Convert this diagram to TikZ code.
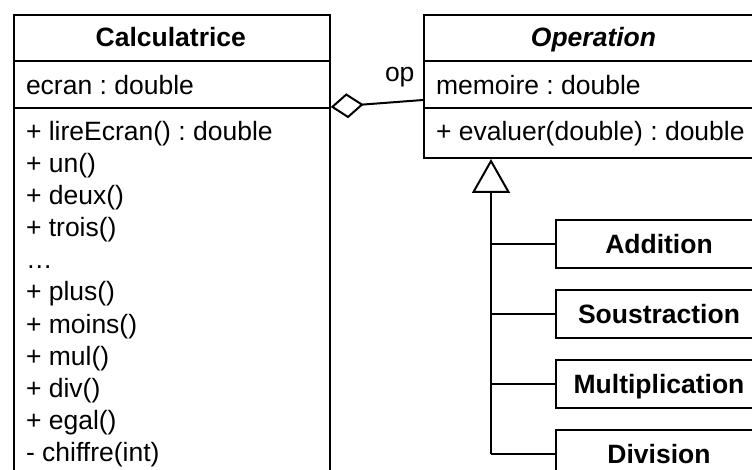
\documentclass[tikz,border=0pt]{standalone}
\usepackage{fontspec}
\setmainfont{Liberation Sans}
\usetikzlibrary{arrows.meta}
\frenchspacing
\begin{document}
\begin{tikzpicture}[x=1pt,y=-1pt,line width=2pt,
  umlbox/.style={draw,line width=2pt,inner sep=0pt,anchor=north west},
  subbox/.style={draw,line width=2pt,inner sep=0pt,anchor=west,minimum width=206pt,minimum height=48pt,
    font=\fontsize{26.5}{32}\selectfont\bfseries,text height=19pt,text depth=0pt},
  title/.style={inner sep=0pt,anchor=base,font=\fontsize{26.5}{32}\selectfont\bfseries},
  txt/.style={inner sep=0pt,anchor=base west,font=\fontsize{26.5}{32}\selectfont},
  agg/.style={line width=2pt,-{Diamond[open,length=33pt,width=25pt,line width=2pt]}},
  gen/.style={line width=2pt,-{Triangle[open,length=34pt,width=38pt,line width=2pt]}},
  branch/.style={line width=2pt}]
\useasboundingbox (0,0) rectangle (752,470);
\clip (0,0) rectangle (752,470);
% Calculatrice
\node[umlbox,minimum width=315.7pt,minimum height=480pt] (calc) at (13,14) {};
\draw ([yshift=-47pt]calc.north west) -- ([yshift=-47pt]calc.north east);
\draw ([yshift=-94pt]calc.north west) -- ([yshift=-94pt]calc.north east);
\node[title] (calcT) at (170.8,47) {Calculatrice};
\node[txt] (calcA) at (25,95) {ecran : double};
\foreach \t [count=\i from 0] in {+ lireEcran() : double,+ un(),+ deux(),+ trois(),…,+ plus(),+ moins(),+ mul(),+ div(),+ egal(),- chiffre(int)}
  \node[txt] (calcM\i) at (25,141+32*\i) {\t};
% Operation
\node[umlbox,minimum width=341pt,minimum height=143pt] (oper) at (423,14) {};
\draw ([yshift=-47pt]oper.north west) -- ([yshift=-47pt]oper.north east);
\draw ([yshift=-94pt]oper.north west) -- ([yshift=-94pt]oper.north east);
\node[title,font=\fontsize{26.5}{32}\selectfont\bfseries\itshape] (operT) at (593.5,47) {Operation};
\node[txt] (operA) at (435,95) {memoire : double};
\node[txt] (operM) at (435,141) {+ evaluer(double) : double};
% aggregation
\draw[agg] ([yshift=-86pt]oper.north west) -- ([yshift=-93pt]calc.north east);
\node[txt,anchor=base west] (oplabel) at (384,82) {op};
% subclasses
\node[subbox] (add) at (555,244) {Addition};
\node[subbox] (sub) at (555,314) {Soustraction};
\node[subbox] (mul) at (555,384) {Multiplication};
\node[subbox] (div) at (555,454) {Division};
\coordinate (trunkTop) at ([xshift=68pt]oper.south west);
\draw[gen] (trunkTop |- div.west) -- (trunkTop);
\draw[branch] (trunkTop |- add.west) -- (add.west);
\draw[branch] (trunkTop |- sub.west) -- (sub.west);
\draw[branch] (trunkTop |- mul.west) -- (mul.west);
\draw[branch] (trunkTop |- div.west) -- (div.west);
\end{tikzpicture}
\end{document}
